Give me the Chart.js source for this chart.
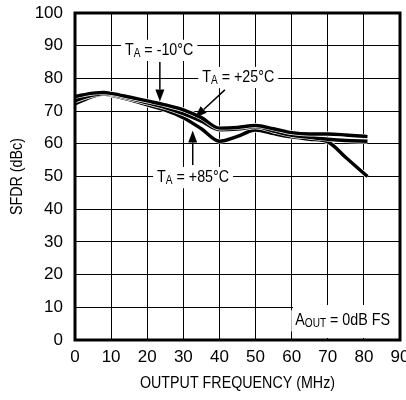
<!DOCTYPE html>
<html>
<head>
<meta charset="utf-8">
<script src="https://cdn.jsdelivr.net/npm/chart.js@4.4.1/dist/chart.umd.min.js"></script>
<style>
  html, body { margin: 0; padding: 0; background: #fff; }
  #wrap { width: 406px; height: 400px; }
</style>
</head>
<body>
<div id="wrap"><canvas id="sfdrChart"></canvas></div>
<script>
// output frequency (MHz) and SFDR (dBc)
const freqs       = [0, 5, 8, 10, 15, 20, 25, 30, 35, 40, 45, 50, 55, 60, 65, 70, 75, 81];
const sfdrMinus10 = [74.5, 75.5, 75.7, 75.4, 74.3, 73.1, 71.9, 70.4, 68.0, 64.8, 65.0, 65.6, 64.6, 63.4, 63.0, 63.0, 62.7, 62.2];
const sfdrPlus25  = [73.2, 74.9, 75.4, 75.1, 73.9, 72.5, 71.1, 69.2, 66.9, 64.3, 64.5, 65.2, 63.9, 62.6, 62.0, 61.4, 61.0, 60.8];
const sfdrPlus85  = [72.2, 74.5, 75.2, 74.8, 73.5, 71.9, 70.3, 68.0, 64.6, 60.8, 62.3, 64.2, 63.1, 62.1, 61.4, 60.6, 55.8, 50.0];

const xTickLabels = [0, 10, 20, 30, 40, 50, 60, 70, 80, 90];
const yTickLabels = [0, 10, 20, 30, 40, 50, 60, 70, 80, 90, 100];

const xTitle = 'OUTPUT FREQUENCY (MHz)';
const yTitle = 'SFDR (dBc)';

const FONT = '"Liberation Sans Narrow", "Liberation Sans", sans-serif';
const SQUEEZE = 0.84; // the original uses a condensed face

// temperature callouts: label centre and arrow (base -> tip), in data units
const callouts = [
    { temp: '-10°C', lx: 23.3, ly: 88.7, ax: [23.5, 85.0], at: [23.5, 72.9] },
    { temp: '+25°C', lx: 45.2, ly: 80.4, ax: [41.5, 76.5], at: [33.2, 68.0] },
    { temp: '+85°C', lx: 32.7, ly: 49.8, ax: [32.6, 53.5], at: [32.6, 64.1] }
];

function toPoints(values) {
    return freqs.map((f, i) => ({ x: f, y: values[i] }));
}

// each curve: white casing underneath, black line on top
const datasets = [];
[sfdrMinus10, sfdrPlus25, sfdrPlus85].forEach((vals, i) => {
    const common = {
        data: toPoints(vals),
        pointRadius: 0,
        cubicInterpolationMode: 'monotone',
        fill: false
    };
    datasets.push(Object.assign({}, common, { borderColor: '#000', borderWidth: 3.4, order: i * 2 }));
    datasets.push(Object.assign({}, common, { borderColor: '#fff', borderWidth: 4.8, order: i * 2 + 1 }));
});

// squeezed text helper, anchored at (x, y) with given alignment
function squeezedText(ctx, text, x, y, font, align) {
    ctx.save();
    ctx.font = font;
    const w = ctx.measureText(text).width * SQUEEZE;
    const left = align === 'center' ? x - w / 2 : x;
    ctx.translate(left, y);
    ctx.scale(SQUEEZE, 1);
    ctx.textAlign = 'left';
    ctx.textBaseline = 'middle';
    ctx.fillStyle = '#000';
    ctx.fillText(text, 0, 0);
    ctx.restore();
    return w;
}

// draws main + subscript + rest on a white box
function drawSubLabel(ctx, main, sub, rest, cx, cy, size, align) {
    const mainFont = size + 'px ' + FONT;
    const subFont = Math.round(size * 0.72) + 'px ' + FONT;
    ctx.font = mainFont;
    const w1 = ctx.measureText(main).width * SQUEEZE;
    const w3 = ctx.measureText(rest).width * SQUEEZE;
    ctx.font = subFont;
    const w2 = ctx.measureText(sub).width * SQUEEZE;
    const total = w1 + w2 + w3;
    const x = align === 'left' ? cx : cx - total / 2;

    ctx.fillStyle = '#fff';
    ctx.fillRect(x - 4, cy - size * 0.6, total + 8, size * 1.25);

    squeezedText(ctx, main, x, cy, mainFont, 'left');
    squeezedText(ctx, sub, x + w1, cy + size * 0.22, subFont, 'left');
    squeezedText(ctx, rest, x + w1 + w2, cy, mainFont, 'left');
}

function drawArrow(ctx, x0, y0, x1, y1) {
    const ang = Math.atan2(y1 - y0, x1 - x0);
    const len = 12, half = 4.5;
    ctx.strokeStyle = '#000';
    ctx.lineWidth = 1.5;
    ctx.beginPath();
    ctx.moveTo(x0, y0);
    ctx.lineTo(x1 - Math.cos(ang) * len, y1 - Math.sin(ang) * len);
    ctx.stroke();
    ctx.fillStyle = '#000';
    ctx.beginPath();
    ctx.moveTo(x1, y1);
    ctx.lineTo(x1 - Math.cos(ang) * len - Math.sin(ang) * half, y1 - Math.sin(ang) * len + Math.cos(ang) * half);
    ctx.lineTo(x1 - Math.cos(ang) * len + Math.sin(ang) * half, y1 - Math.sin(ang) * len - Math.cos(ang) * half);
    ctx.closePath();
    ctx.fill();
}

const annotationPlugin = {
    id: 'annotations',
    beforeDatasetsDraw(chart) {
        const ctx = chart.ctx;
        const xs = chart.scales.x, ys = chart.scales.y;
        ctx.save();
        // A_OUT box in the lower right corner
        const bx0 = xs.getPixelForValue(60.4), bx1 = xs.getPixelForValue(90);
        const by0 = ys.getPixelForValue(10.7), by1 = ys.getPixelForValue(0);
        ctx.fillStyle = '#fff';
        ctx.fillRect(bx0, by0, bx1 - bx0, by1 - by0 - 2);
        drawSubLabel(ctx, 'A', 'OUT', ' = 0dB FS', xs.getPixelForValue(61.0), ys.getPixelForValue(6.0), 17, 'left');
        ctx.restore();
    },
    afterDatasetsDraw(chart) {
        const ctx = chart.ctx;
        const xs = chart.scales.x, ys = chart.scales.y;
        const area = chart.chartArea;
        ctx.save();
        callouts.forEach(c => {
            drawSubLabel(ctx, 'T', 'A', ' = ' + c.temp, xs.getPixelForValue(c.lx), ys.getPixelForValue(c.ly), 17);
            drawArrow(ctx, xs.getPixelForValue(c.ax[0]), ys.getPixelForValue(c.ax[1]),
                      xs.getPixelForValue(c.at[0]), ys.getPixelForValue(c.at[1]));
        });
        // heavy frame round the plot
        ctx.strokeStyle = '#000';
        ctx.lineWidth = 3;
        ctx.strokeRect(area.left, area.top, area.right - area.left, area.bottom - area.top);

        // axis titles, squeezed like the original face
        const titleFont = '17px ' + FONT;
        squeezedText(ctx, xTitle, (area.left + area.right) / 2, 383, titleFont, 'center');
        ctx.translate(17, (area.top + area.bottom) / 2);
        ctx.rotate(-Math.PI / 2);
        squeezedText(ctx, yTitle, 0, 0, titleFont, 'center');
        ctx.restore();
    }
};

document.addEventListener('DOMContentLoaded', () => {
    const ctx = document.getElementById('sfdrChart').getContext('2d');
    new Chart(ctx, {
        type: 'line',
        data: { datasets: datasets },
        plugins: [annotationPlugin],
        options: {
            responsive: true,
            maintainAspectRatio: false,
            animation: false,
            layout: { padding: { top: 13, right: 6, left: 0, bottom: 0 } },
            plugins: {
                legend: { display: false },
                tooltip: { enabled: false }
            },
            scales: {
                x: {
                    type: 'linear',
                    min: xTickLabels[0],
                    max: xTickLabels[xTickLabels.length - 1],
                    afterBuildTicks: s => { s.ticks = xTickLabels.map(v => ({ value: v })); },
                    afterFit: s => { s.height = 60; s.paddingLeft = 0; s.paddingRight = 0; },
                    grid: { color: '#000', lineWidth: 1, drawTicks: false },
                    border: { display: false },
                    ticks: {
                        color: '#000',
                        padding: 7,
                        maxRotation: 0,
                        autoSkip: false,
                        font: { family: FONT, size: 17 }
                    }
                },
                y: {
                    min: yTickLabels[0],
                    max: yTickLabels[yTickLabels.length - 1],
                    afterBuildTicks: s => { s.ticks = yTickLabels.map(v => ({ value: v })); },
                    afterFit: s => { s.width = 75; s.paddingTop = 0; s.paddingBottom = 0; },
                    grid: { color: '#000', lineWidth: 1, drawTicks: false },
                    border: { display: false },
                    ticks: {
                        color: '#000',
                        padding: 12,
                        font: { family: FONT, size: 17 }
                    }
                }
            }
        }
    });
});
</script>
</body>
</html>
